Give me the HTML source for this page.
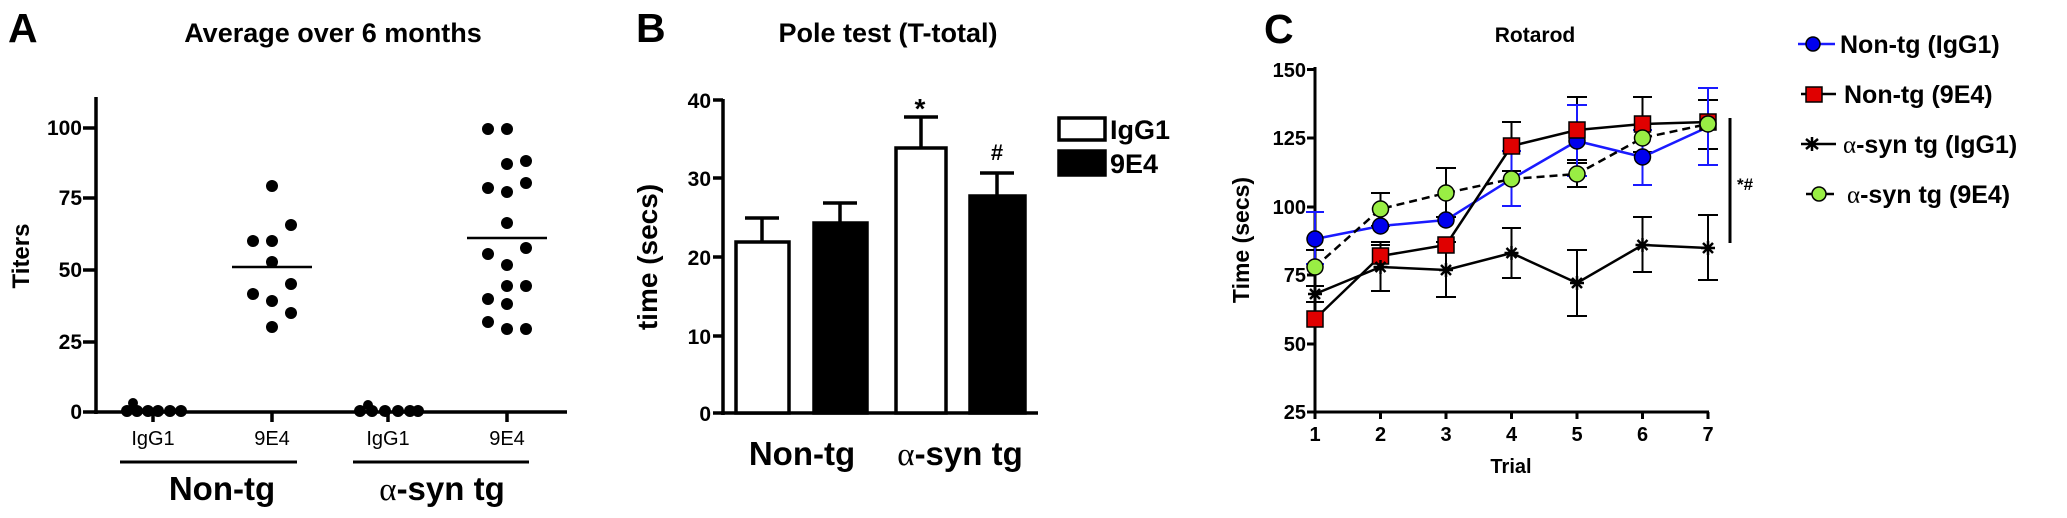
<!DOCTYPE html>
<html><head><meta charset="utf-8"><style>body{margin:0;background:#fff}svg{display:block}text{font-family:"Liberation Sans",sans-serif;font-weight:bold;fill:#000}</style></head><body>
<svg width="2067" height="518" viewBox="0 0 2067 518" xmlns="http://www.w3.org/2000/svg">
<!-- Panel A -->
<text x="8" y="42" font-size="41">A</text>
<text x="333" y="42" font-size="27" text-anchor="middle">Average over 6 months</text>
<g stroke="#000" stroke-width="3.5" fill="none">
<line x1="96" y1="97" x2="96" y2="414"/><line x1="94" y1="412" x2="567" y2="412"/>
<line x1="83" y1="128" x2="96" y2="128"/><line x1="83" y1="198" x2="96" y2="198"/><line x1="83" y1="270" x2="96" y2="270"/><line x1="83" y1="342" x2="96" y2="342"/><line x1="83" y1="412" x2="96" y2="412"/>
<line x1="153" y1="412" x2="153" y2="422"/><line x1="272" y1="412" x2="272" y2="422"/><line x1="388" y1="412" x2="388" y2="422"/><line x1="507" y1="412" x2="507" y2="422"/>
<line x1="120" y1="462" x2="297" y2="462" stroke-width="3"/><line x1="353" y1="462" x2="529" y2="462" stroke-width="3"/>
<line x1="232" y1="267" x2="312" y2="267" stroke-width="2.5"/><line x1="467" y1="238" x2="547" y2="238" stroke-width="2.5"/>
</g>
<g font-size="21" text-anchor="end"><text x="82" y="135">100</text><text x="82" y="205">75</text><text x="82" y="277">50</text><text x="82" y="349">25</text><text x="82" y="419">0</text></g>
<text transform="translate(29,256) rotate(-90)" font-size="24" text-anchor="middle">Titers</text>
<g font-size="20" text-anchor="middle"><text x="153" y="445" style="font-weight:normal">IgG1</text><text x="272" y="445" style="font-weight:normal">9E4</text><text x="388" y="445" style="font-weight:normal">IgG1</text><text x="507" y="445" style="font-weight:normal">9E4</text></g>
<text x="222" y="500" font-size="33" text-anchor="middle">Non-tg</text>
<text x="442" y="500" font-size="33" text-anchor="middle"><tspan font-family="Liberation Serif" font-weight="normal">α</tspan>-syn tg</text>
<g fill="#000">
<circle cx="272" cy="186" r="6"/><circle cx="291" cy="225" r="6"/><circle cx="253" cy="241" r="6"/><circle cx="272" cy="241" r="6"/><circle cx="272" cy="262" r="6"/><circle cx="291" cy="284" r="6"/><circle cx="253" cy="294" r="6"/><circle cx="272" cy="301" r="6"/><circle cx="291" cy="313" r="6"/><circle cx="272" cy="327" r="6"/>
<circle cx="488" cy="129" r="6"/><circle cx="507" cy="129" r="6"/><circle cx="507" cy="164" r="6"/><circle cx="526" cy="161" r="6"/><circle cx="488" cy="188" r="6"/><circle cx="507" cy="192" r="6"/><circle cx="526" cy="183" r="6"/><circle cx="507" cy="223" r="6"/><circle cx="488" cy="254" r="6"/><circle cx="526" cy="248" r="6"/><circle cx="507" cy="265" r="6"/><circle cx="507" cy="286" r="6"/><circle cx="526" cy="286" r="6"/><circle cx="488" cy="299" r="6"/><circle cx="507" cy="304" r="6"/><circle cx="488" cy="322" r="6"/><circle cx="507" cy="329" r="6"/><circle cx="526" cy="329" r="6"/>
<circle cx="133" cy="403" r="5"/><circle cx="127" cy="411" r="6"/><circle cx="137" cy="411" r="6"/><circle cx="148" cy="411" r="6"/><circle cx="158" cy="411" r="6"/><circle cx="170" cy="411" r="6"/><circle cx="181" cy="411" r="6"/>
<circle cx="368" cy="405" r="5"/><circle cx="360" cy="411" r="6"/><circle cx="372" cy="411" r="6"/><circle cx="385" cy="411" r="6"/><circle cx="398" cy="411" r="6"/><circle cx="410" cy="411" r="6"/><circle cx="418" cy="411" r="6"/>
</g>
<!-- Panel B -->
<text x="636" y="42" font-size="41">B</text>
<text x="888" y="42" font-size="27" text-anchor="middle">Pole test (T-total)</text>
<g stroke="#000" stroke-width="3.5">
<line x1="723" y1="99" x2="723" y2="415"/><line x1="721" y1="413" x2="1038" y2="413"/>
<line x1="713" y1="100" x2="723" y2="100"/><line x1="713" y1="178" x2="723" y2="178"/><line x1="713" y1="257" x2="723" y2="257"/><line x1="713" y1="336" x2="723" y2="336"/><line x1="713" y1="413" x2="723" y2="413"/>
<line x1="762" y1="242" x2="762" y2="218"/><line x1="745" y1="218" x2="779" y2="218"/>
<line x1="840" y1="223" x2="840" y2="203"/><line x1="823" y1="203" x2="857" y2="203"/>
<line x1="921" y1="148" x2="921" y2="117"/><line x1="904" y1="117" x2="938" y2="117"/>
<line x1="997" y1="196" x2="997" y2="173"/><line x1="980" y1="173" x2="1014" y2="173"/>
<rect x="736" y="242" width="53" height="171" fill="#fff"/>
<rect x="814" y="223" width="53" height="190" fill="#000"/>
<rect x="896" y="148" width="50" height="265" fill="#fff"/>
<rect x="970" y="196" width="55" height="217" fill="#000"/>
<rect x="1059" y="118" width="46" height="22" fill="#fff"/>
<rect x="1059" y="151" width="46" height="24" fill="#000"/>
</g>
<g font-size="21" text-anchor="end"><text x="711" y="108">40</text><text x="711" y="186">30</text><text x="711" y="265">20</text><text x="711" y="344">10</text><text x="711" y="421">0</text></g>
<text x="920" y="118" font-size="28" text-anchor="middle">*</text>
<text x="997" y="160" font-size="22" text-anchor="middle">#</text>
<text x="1110" y="139" font-size="27">IgG1</text><text x="1110" y="173" font-size="27">9E4</text>
<text transform="translate(657,257) rotate(-90)" font-size="28" text-anchor="middle">time (secs)</text>
<text x="802" y="465" font-size="33" text-anchor="middle">Non-tg</text>
<text x="960" y="465" font-size="33" text-anchor="middle"><tspan font-family="Liberation Serif" font-weight="normal">α</tspan>-syn tg</text>
<!-- Panel C -->
<text x="1264" y="43" font-size="41">C</text>
<text x="1535" y="42" font-size="21" text-anchor="middle">Rotarod</text>
<g stroke="#000" stroke-width="3">
<line x1="1315" y1="67" x2="1315" y2="414"/><line x1="1313" y1="412" x2="1709" y2="412"/>
<line x1="1307" y1="69.5" x2="1315" y2="69.5"/><line x1="1307" y1="138" x2="1315" y2="138"/><line x1="1307" y1="207" x2="1315" y2="207"/><line x1="1307" y1="275" x2="1315" y2="275"/><line x1="1307" y1="344" x2="1315" y2="344"/><line x1="1307" y1="412" x2="1315" y2="412"/>
<line x1="1380.5" y1="412" x2="1380.5" y2="419"/><line x1="1446" y1="412" x2="1446" y2="419"/><line x1="1511.5" y1="412" x2="1511.5" y2="419"/><line x1="1577" y1="412" x2="1577" y2="419"/><line x1="1642.5" y1="412" x2="1642.5" y2="419"/><line x1="1708" y1="412" x2="1708" y2="419"/><line x1="1315" y1="412" x2="1315" y2="419"/>
<line x1="1730" y1="118" x2="1730" y2="243"/>
</g>
<g font-size="20" text-anchor="end"><text x="1306" y="77">150</text><text x="1306" y="145">125</text><text x="1306" y="214">100</text><text x="1306" y="282">75</text><text x="1306" y="351">50</text><text x="1306" y="419">25</text></g>
<g font-size="20" text-anchor="middle"><text x="1315" y="441">1</text><text x="1380.5" y="441">2</text><text x="1446" y="441">3</text><text x="1511.5" y="441">4</text><text x="1577" y="441">5</text><text x="1642.5" y="441">6</text><text x="1708" y="441">7</text></g>
<text x="1511" y="473" font-size="20" text-anchor="middle">Trial</text>
<text transform="translate(1249,240) rotate(-90)" font-size="23" text-anchor="middle">Time (secs)</text>
<text x="1737" y="190" font-size="17">*#</text>
<g stroke="#000" stroke-width="2" fill="none">
<path d="M1380.5 291v-49M1371 291h19M1371 242h19M1446 297v-55M1436 297h20M1436 242h20M1511.5 278v-50M1502 278h19M1502 228h19M1577 316v-66M1567 316h20M1567 250h20M1642.5 272v-55M1633 272h19M1633 217h19M1708 280v-65M1698 280h20M1698 215h20M1315 302v-16M1306 302h18M1306 286h18"/>
<path d="M1511.5 171v-49M1502 171h19M1502 122h19M1577 163v-66M1567 163h20M1567 97h20M1642.5 152v-55M1633 152h19M1633 97h19M1708 149v-49M1698 149h20M1698 100h20M1380.5 270v-25M1371 245h19"/>
<path d="M1315 283v-33M1306 250h18M1380.5 226v-33M1371 193h19M1371 226h19M1446 217v-49M1436 217h20M1436 168h20M1511.5 187v-16M1577 187v-27M1567 187h20M1567 160h20M1642.5 151v-16"/>
</g>
<g stroke="#1a1aff" stroke-width="2" fill="none">
<path d="M1315 264v-52M1306 264h18M1306 212h18M1511.5 206v-55M1502 206h19M1502 151h19M1577 176v-71M1567 176h20M1567 105h20M1642.5 185v-55M1633 185h19M1633 130h19M1708 165v-77M1698 165h20M1698 88h20"/>
</g>
<polyline points="1315,239 1380.5,226 1446,220 1511.5,179 1577,141 1642.5,157 1708,127" fill="none" stroke="#1a1aff" stroke-width="2.5"/>
<polyline points="1315,319 1380.5,256 1446,245 1511.5,146 1577,130 1642.5,124 1708,122" fill="none" stroke="#000" stroke-width="2.5"/>
<polyline points="1315,294 1380.5,267 1446,270 1511.5,253 1577,283 1642.5,245 1708,248" fill="none" stroke="#000" stroke-width="2.5"/>
<polyline points="1315,267 1380.5,209 1446,193 1511.5,179 1577,174 1642.5,138 1708,124" fill="none" stroke="#000" stroke-width="2.5" stroke-dasharray="8,5"/>
<g fill="#0000ee" stroke="#000" stroke-width="1.5">
<circle cx="1315" cy="239" r="8"/><circle cx="1380.5" cy="226" r="8"/><circle cx="1446" cy="220" r="8"/><circle cx="1577" cy="141" r="8"/><circle cx="1642.5" cy="157" r="8"/>
</g>
<g fill="#e00000" stroke="#000" stroke-width="1.5">
<rect x="1307" y="311" width="16" height="16"/><rect x="1372.5" y="248" width="16" height="16"/><rect x="1438" y="237" width="16" height="16"/><rect x="1503.5" y="138" width="16" height="16"/><rect x="1569" y="122" width="16" height="16"/><rect x="1634.5" y="116" width="16" height="16"/><rect x="1700" y="114" width="16" height="16"/>
</g>
<g fill="#99ee44" stroke="#000" stroke-width="1.5">
<circle cx="1315" cy="267" r="8"/><circle cx="1380.5" cy="209" r="8"/><circle cx="1446" cy="193" r="8"/><circle cx="1511.5" cy="179" r="8"/><circle cx="1577" cy="174" r="8"/><circle cx="1642.5" cy="138" r="8"/><circle cx="1708" cy="124" r="8"/>
</g>
<g stroke="#000" stroke-width="2.5">
<path d="M1308 294h14M1315 287v14M1310 289l10 10M1320 289l-10 10"/>
<path d="M1373.5 267h14M1380.5 260v14M1375.5 262l10 10M1385.5 262l-10 10"/>
<path d="M1439 270h14M1446 263v14M1441 265l10 10M1451 265l-10 10"/>
<path d="M1504.5 253h14M1511.5 246v14M1506.5 248l10 10M1516.5 248l-10 10"/>
<path d="M1570 283h14M1577 276v14M1572 278l10 10M1582 278l-10 10"/>
<path d="M1635.5 245h14M1642.5 238v14M1637.5 240l10 10M1647.5 240l-10 10"/>
<path d="M1701 248h14M1708 241v14M1703 243l10 10M1713 243l-10 10"/>
</g>
<line x1="1798" y1="44" x2="1835" y2="44" stroke="#1a1aff" stroke-width="2.5"/>
<circle cx="1813" cy="44" r="7" fill="#0000ee" stroke="#000" stroke-width="1.5"/>
<line x1="1801" y1="94" x2="1836" y2="94" stroke="#000" stroke-width="2.5"/>
<rect x="1806" y="87" width="16" height="15" fill="#e00000" stroke="#000" stroke-width="1.5"/>
<path d="M1801 144h35M1812 137v14M1806 139l12 10M1818 139l-12 10" stroke="#000" stroke-width="2.5"/>
<line x1="1806" y1="194" x2="1834" y2="194" stroke="#000" stroke-width="2.5"/>
<circle cx="1819" cy="194" r="7" fill="#99ee44" stroke="#000" stroke-width="1.5"/>
<g font-size="25"><text x="1840" y="53">Non-tg (IgG1)</text><text x="1844" y="103">Non-tg (9E4)</text><text x="1843" y="153"><tspan font-family="Liberation Serif" font-weight="normal">α</tspan>-syn tg (IgG1)</text><text x="1847" y="203"><tspan font-family="Liberation Serif" font-weight="normal">α</tspan>-syn tg (9E4)</text></g>
</svg>
</body></html>
